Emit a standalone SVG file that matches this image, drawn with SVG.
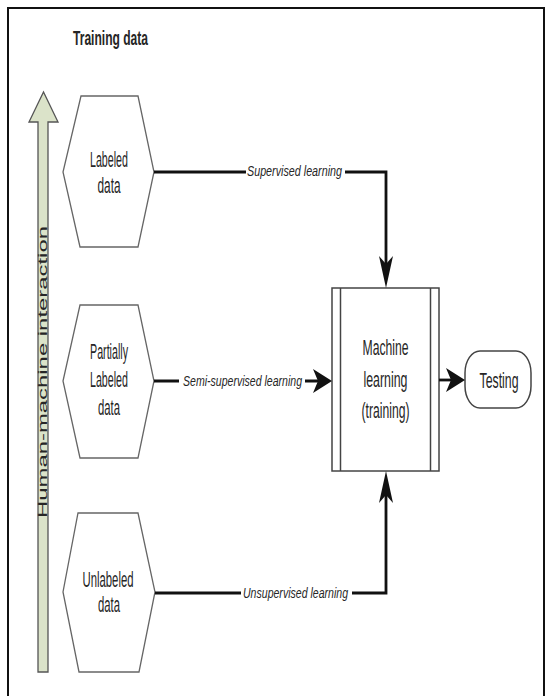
<svg xmlns="http://www.w3.org/2000/svg" width="552" height="696" viewBox="0 0 552 696">
<style>
.t{font-family:"Liberation Sans",Arial,sans-serif;fill:#262626;}
.node{font-size:21.5px;text-anchor:middle;}
.lbl{font-size:15.5px;font-style:italic;}
.hex{fill:#fff;stroke:#666;stroke-width:1.3;}
.box{fill:#fff;stroke:#444;stroke-width:1.5;}
.conn{fill:none;stroke:#111;stroke-width:2.8;}
</style>
<defs>
<marker id="ah" markerUnits="userSpaceOnUse" markerWidth="20" markerHeight="26" refX="5" refY="12" orient="auto" overflow="visible">
<path d="M19,12 L0,0 L5,12 L0,24 Z" fill="#111"/>
</marker>
<marker id="av" markerUnits="userSpaceOnUse" markerWidth="33" markerHeight="16" refX="8" refY="7" orient="auto" overflow="visible">
<path d="M32,7 L0,0 L8,7 L0,14 Z" fill="#111"/>
</marker>
</defs>
<rect width="552" height="696" fill="#fff"/>
<rect x="8" y="8" width="536" height="700" fill="none" stroke="#111" stroke-width="2"/>

<g id="title">
<text class="t" x="73" y="45" font-size="21" font-weight="bold" textLength="75" lengthAdjust="spacingAndGlyphs">Training data</text>
</g>

<g id="hmi-arrow">
<path d="M38,672 L38,122 L29,122 L43.5,92 L58,122 L48,122 L48,672 Z" fill="#dbe3c9" stroke="#555" stroke-width="1.3"/>
<text class="t" transform="translate(47,518) rotate(-90)" font-size="12" fill="#333" textLength="292" lengthAdjust="spacingAndGlyphs">Human-machine interaction</text>
</g>

<g id="labeled">
<polygon class="hex" points="81,96 138,96 154,172 138,247 80,247 63,172"/>
<text class="t node" x="109" y="167" textLength="38" lengthAdjust="spacingAndGlyphs">Labeled</text>
<text class="t node" x="109" y="193" textLength="23" lengthAdjust="spacingAndGlyphs">data</text>
</g>

<g id="partially">
<polygon class="hex" points="80,305 138,305 154,381 138,458 80,458 63,381"/>
<text class="t node" x="109" y="359" textLength="38" lengthAdjust="spacingAndGlyphs">Partially</text>
<text class="t node" x="109" y="387" textLength="38" lengthAdjust="spacingAndGlyphs">Labeled</text>
<text class="t node" x="109" y="415" textLength="22" lengthAdjust="spacingAndGlyphs">data</text>
</g>

<g id="unlabeled">
<polygon class="hex" points="78,513 138,513 155,592 139,672 79,672 63,592"/>
<text class="t node" x="108" y="587" textLength="51" lengthAdjust="spacingAndGlyphs">Unlabeled</text>
<text class="t node" x="109" y="612" textLength="22" lengthAdjust="spacingAndGlyphs">data</text>
</g>

<g id="ml">
<rect class="box" x="332" y="288" width="107" height="183"/>
<line x1="340.5" y1="288" x2="340.5" y2="471" stroke="#444" stroke-width="1.5"/>
<line x1="430.5" y1="288" x2="430.5" y2="471" stroke="#444" stroke-width="1.5"/>
<text class="t node" x="385.5" y="355" textLength="46" lengthAdjust="spacingAndGlyphs">Machine</text>
<text class="t node" x="385.5" y="387" textLength="44" lengthAdjust="spacingAndGlyphs">learning</text>
<text class="t node" x="385.5" y="418" textLength="48" lengthAdjust="spacingAndGlyphs">(training)</text>
</g>

<g id="testing">
<rect class="box" x="465" y="351" width="66" height="57" rx="15" ry="22"/>
<text class="t node" x="499" y="388" textLength="39" lengthAdjust="spacingAndGlyphs">Testing</text>
</g>

<g id="connectors">
<path class="conn" d="M154,172 L246,172 M345,172 L386,172 L386,264" marker-end="url(#av)"/>
<text class="t lbl" x="247" y="176" textLength="95" lengthAdjust="spacingAndGlyphs">Supervised learning</text>

<path class="conn" d="M154,381 L179,381 M305,381 L318,381" marker-end="url(#ah)"/>
<text class="t lbl" x="183" y="386" textLength="119" lengthAdjust="spacingAndGlyphs">Semi-supervised learning</text>

<path class="conn" d="M155,593 L241,593 M352,593 L386,593 L386,495" marker-end="url(#av)"/>
<text class="t lbl" x="243" y="598" textLength="105" lengthAdjust="spacingAndGlyphs">Unsupervised learning</text>

<path class="conn" d="M439,380 L451,380" marker-end="url(#ah)"/>
</g>
</svg>
